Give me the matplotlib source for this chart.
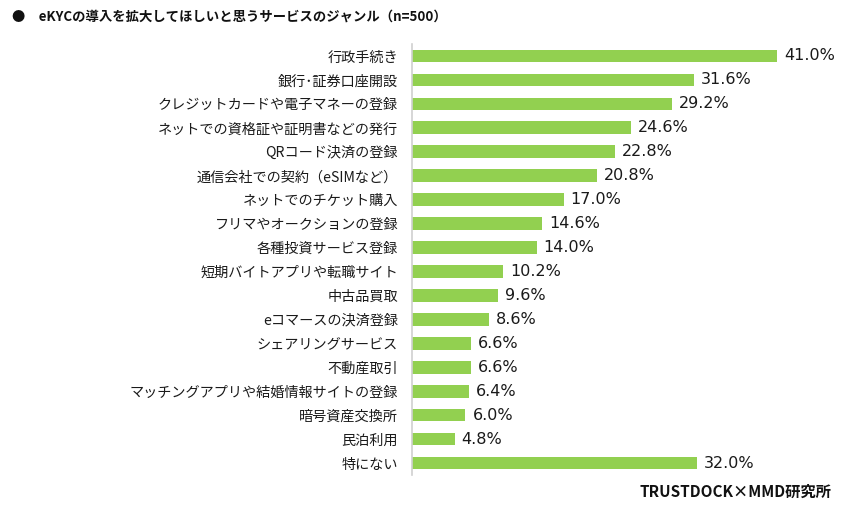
import matplotlib.pyplot as plt

plt.rcParams['font.family'] = ['Noto Sans CJK JP', 'DejaVu Sans']

## データ
categories = ['行政手続き', '銀行･証券口座開設', 'クレジットカードや電子マネーの登録',
              'ネットでの資格証や証明書などの発行', 'QRコード決済の登録',
              '通信会社での契約（eSIMなど）', 'ネットでのチケット購入',
              'フリマやオークションの登録', '各種投資サービス登録',
              '短期バイトアプリや転職サイト', '中古品買取', 'eコマースの決済登録',
              'シェアリングサービス', '不動産取引', 'マッチングアプリや結婚情報サイトの登録',
              '暗号資産交換所', '民泊利用', '特にない']
values = [41.0, 31.6, 29.2, 24.6, 22.8, 20.8, 17.0, 14.6, 14.0, 10.2,
          9.6, 8.6, 6.6, 6.6, 6.4, 6.0, 4.8, 32.0]

title = '●　eKYCの導入を拡大してほしいと思うサービスのジャンル（n=500）'
source = 'TRUSTDOCK×MMD研究所'

fig = plt.figure(figsize=(8.42, 5.07), dpi=100)
ax = fig.add_axes([412 / 842, 1 - 475 / 507, 410 / 842, 431 / 507])

y = list(range(len(categories)))
ax.barh(y, values, height=0.53, color='#92D050')
ax.set_ylim(len(categories) - 0.5, -0.5)
ax.set_xlim(0, 46)

ax.set_yticks(y)
ax.set_yticklabels(categories, fontsize=10.2, color='#1a1a1a')
ax.tick_params(axis='y', length=0, pad=10)
ax.set_xticks([])

for s in ['top', 'right', 'bottom']:
    ax.spines[s].set_visible(False)
ax.spines['left'].set_color('#d0d0d0')
ax.spines['left'].set_linewidth(1.2)

for yi, v in zip(y, values):
    ax.annotate('%.1f%%' % v, (v, yi), xytext=(5, 0), textcoords='offset points',
                va='center', ha='left', fontsize=11.5, color='#1a1a1a',
                family='DejaVu Sans')

fig.text(12 / 842, 1 - 17 / 507, title, fontsize=9.6, fontweight='bold',
         va='center', ha='left', color='#111111')
fig.text(831 / 842, 1 - 492 / 507, source, fontsize=11, fontweight='bold',
         va='center', ha='right', color='#111111')

fig.savefig('out.png', dpi=100)
